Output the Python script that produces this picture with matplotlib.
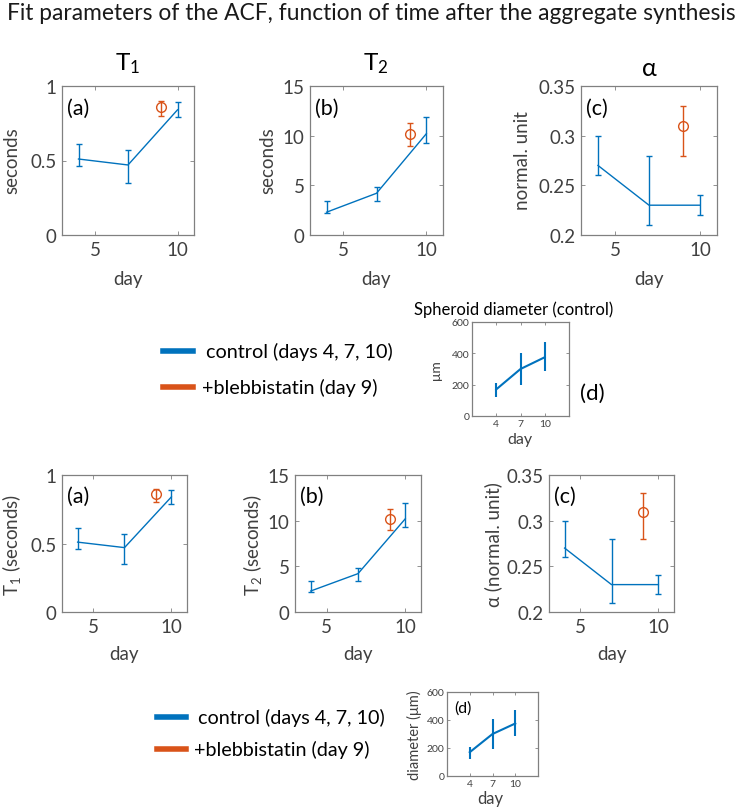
import matplotlib
matplotlib.use("Agg")
import matplotlib.pyplot as plt
from matplotlib.lines import Line2D

plt.rcParams['font.family'] = ['Lato', 'DejaVu Sans']
plt.rcParams['mathtext.fontset'] = 'custom'
plt.rcParams['mathtext.rm'] = 'Lato'
plt.rcParams['mathtext.it'] = 'Lato:italic'

# ---------------- data ----------------
days = [4, 7, 10]
blebb_day = [9]

t1 = [0.51, 0.47, 0.84]
t1_lo = [0.46, 0.35, 0.79]
t1_hi = [0.61, 0.57, 0.89]
t1_b = [0.86]
t1_b_lo = [0.80]
t1_b_hi = [0.90]

t2 = [2.3, 4.2, 10.2]
t2_lo = [2.2, 3.4, 9.3]
t2_hi = [3.4, 4.8, 11.9]
t2_b = [10.2]
t2_b_lo = [9.0]
t2_b_hi = [11.3]

alpha = [0.27, 0.23, 0.23]
alpha_lo = [0.26, 0.21, 0.22]
alpha_hi = [0.30, 0.28, 0.24]
alpha_b = [0.31]
alpha_b_lo = [0.28]
alpha_b_hi = [0.33]

diam = [170, 300, 375]
diam_lo = [120, 195, 285]
diam_hi = [210, 405, 470]

BLUE = '#0072BD'
ORANGE = '#D95319'
AXC = '#808080'
TXT = '#404040'

W, H = 740, 812
fig = plt.figure(figsize=(W / 100, H / 100), dpi=100)


def box(x0, y0, x1, y1):
    return [x0 / W, 1 - y1 / H, (x1 - x0) / W, (y1 - y0) / H]


def fx(x):
    return x / W


def fy(y):
    return 1 - y / H


def style(ax, fs):
    for s in ax.spines.values():
        s.set_color(AXC)
        s.set_linewidth(0.9)
    ax.tick_params(direction='in', top=True, right=True, length=3, width=0.6,
                   color=AXC, labelcolor=TXT, labelsize=fs, pad=4)


def errs(v, lo, hi):
    return [[a - b for a, b in zip(v, lo)], [c - a for a, c in zip(v, hi)]]


def panel(rect, v, lo, hi, vb, blo, bhi, ylim, yticks, yticklabels, lab, lw=1.0):
    ax = fig.add_axes(rect)
    ax.errorbar(days, v, yerr=errs(v, lo, hi), color=BLUE, lw=lw, elinewidth=1.0,
                capsize=2, capthick=1.0)
    ax.errorbar(blebb_day, vb, yerr=errs(vb, blo, bhi), color=ORANGE, lw=1.0,
                elinewidth=1.0, capsize=2, capthick=1.0, marker='o', ms=7,
                mfc='none', mec=ORANGE, mew=1.0)
    ax.set_xlim(3, 11)
    ax.set_xticks([5, 10])
    ax.set_ylim(*ylim)
    ax.set_yticks(yticks)
    ax.set_yticklabels(yticklabels)
    style(ax, 13.5)
    ax.text(0.04, 0.92, lab, transform=ax.transAxes, fontsize=15.5, color='black',
            va='top', ha='left')
    return ax


def small_panel(rect, tick_fs):
    ax = fig.add_axes(rect)
    ax.errorbar(days, diam, yerr=errs(diam, diam_lo, diam_hi), color=BLUE, lw=1.5,
                elinewidth=1.5, capsize=0)
    ax.set_xlim(1, 13)
    ax.set_xticks(days)
    ax.set_ylim(0, 600)
    ax.set_yticks([0, 200, 400, 600])
    style(ax, tick_fs)
    ax.tick_params(length=2, pad=2)
    return ax


# ---------------- title ----------------
fig.text(fx(371), fy(14), 'Fit parameters of the ACF, function of time after the aggregate synthesis',
         ha='center', va='center', fontsize=16.4, color='#1a1a1a')

# ---------------- top row ----------------
ax = panel(box(62, 87, 194, 236), t1, t1_lo, t1_hi, t1_b, t1_b_lo, t1_b_hi,
           (0, 1), [0, 0.5, 1], ['0', '0.5', '1'], '(a)')
fig.text(fx(12), fy(161), 'seconds', rotation=90, ha='center', va='center', fontsize=13.5, color=TXT)
fig.text(fx(128), fy(280), 'day', ha='center', va='center', fontsize=13.5, color=TXT)
fig.text(fx(128), fy(64), r'T$_1$', ha='center', va='center', fontsize=17.5, color='black')

ax = panel(box(310, 87, 443, 236), t2, t2_lo, t2_hi, t2_b, t2_b_lo, t2_b_hi,
           (0, 15), [0, 5, 10, 15], ['0', '5', '10', '15'], '(b)')
fig.text(fx(268), fy(161), 'seconds', rotation=90, ha='center', va='center', fontsize=13.5, color=TXT)
fig.text(fx(376), fy(280), 'day', ha='center', va='center', fontsize=13.5, color=TXT)
fig.text(fx(376), fy(64), r'T$_2$', ha='center', va='center', fontsize=17.5, color='black')

ax = panel(box(581, 87, 717, 236), alpha, alpha_lo, alpha_hi, alpha_b, alpha_b_lo, alpha_b_hi,
           (0.2, 0.35), [0.2, 0.25, 0.3, 0.35], ['0.2', '0.25', '0.3', '0.35'], '(c)')
fig.text(fx(522), fy(161), 'normal. unit', rotation=90, ha='center', va='center', fontsize=13.5, color=TXT)
fig.text(fx(649), fy(280), 'day', ha='center', va='center', fontsize=13.5, color=TXT)
fig.text(fx(649), fy(68), 'α', ha='center', va='center', fontsize=18, color='black')

# ---------------- middle legend + (d) ----------------
fig.add_artist(Line2D([fx(163), fx(193)], [fy(352), fy(352)], color=BLUE, lw=4))
fig.add_artist(Line2D([fx(163), fx(193)], [fy(388), fy(388)], color=ORANGE, lw=4))
fig.text(fx(206), fy(352), 'control (days 4, 7, 10)', ha='left', va='center', fontsize=14.2, color='black')
fig.text(fx(202), fy(388), '+blebbistatin (day 9)', ha='left', va='center', fontsize=14.2, color='black')

ax = small_panel(box(472, 323, 569, 417), 7.5)
fig.text(fx(514), fy(310), 'Spheroid diameter (control)', ha='center', va='center', fontsize=12, color='black')
fig.text(fx(436), fy(370), 'μm', rotation=90, ha='center', va='center', fontsize=10, color=TXT)
fig.text(fx(520), fy(440), 'day', ha='center', va='center', fontsize=11.5, color=TXT)
fig.text(fx(592), fy(394), '(d)', ha='center', va='center', fontsize=16, color='black')

# ---------------- bottom row ----------------
ax = panel(box(62, 476, 187, 613), t1, t1_lo, t1_hi, t1_b, t1_b_lo, t1_b_hi,
           (0, 1), [0, 0.5, 1], ['0', '0.5', '1'], '(a)')
fig.text(fx(12), fy(545), r'T$_1$ (seconds)', rotation=90, ha='center', va='center', fontsize=13.5, color=TXT)
fig.text(fx(124), fy(655), 'day', ha='center', va='center', fontsize=13.5, color=TXT)

ax = panel(box(295, 476, 421, 613), t2, t2_lo, t2_hi, t2_b, t2_b_lo, t2_b_hi,
           (0, 15), [0, 5, 10, 15], ['0', '5', '10', '15'], '(b)')
fig.text(fx(252), fy(545), r'T$_2$ (seconds)', rotation=90, ha='center', va='center', fontsize=13.5, color=TXT)
fig.text(fx(358), fy(655), 'day', ha='center', va='center', fontsize=13.5, color=TXT)

ax = panel(box(549, 476, 674, 613), alpha, alpha_lo, alpha_hi, alpha_b, alpha_b_lo, alpha_b_hi,
           (0.2, 0.35), [0.2, 0.25, 0.3, 0.35], ['0.2', '0.25', '0.3', '0.35'], '(c)')
fig.text(fx(493), fy(545), 'α (normal. unit)', rotation=90, ha='center', va='center', fontsize=13.5, color=TXT)
fig.text(fx(612), fy(655), 'day', ha='center', va='center', fontsize=13.5, color=TXT)

# ---------------- bottom legend + (d) ----------------
fig.add_artist(Line2D([fx(157), fx(186)], [fy(718), fy(718)], color=BLUE, lw=4))
fig.add_artist(Line2D([fx(157), fx(186)], [fy(750), fy(750)], color=ORANGE, lw=4))
fig.text(fx(198), fy(718), 'control (days 4, 7, 10)', ha='left', va='center', fontsize=14.2, color='black')
fig.text(fx(194), fy(750), '+blebbistatin (day 9)', ha='left', va='center', fontsize=14.2, color='black')

ax = small_panel(box(447, 693, 538, 777), 7.5)
ax.text(0.08, 0.9, '(d)', transform=ax.transAxes, fontsize=11.5, va='top', ha='left', color='black')
fig.text(fx(414), fy(735), 'diameter (μm)', rotation=90, ha='center', va='center', fontsize=10.5, color=TXT)
fig.text(fx(490), fy(799), 'day', ha='center', va='center', fontsize=12, color=TXT)

fig.savefig('out.png', dpi=100)
